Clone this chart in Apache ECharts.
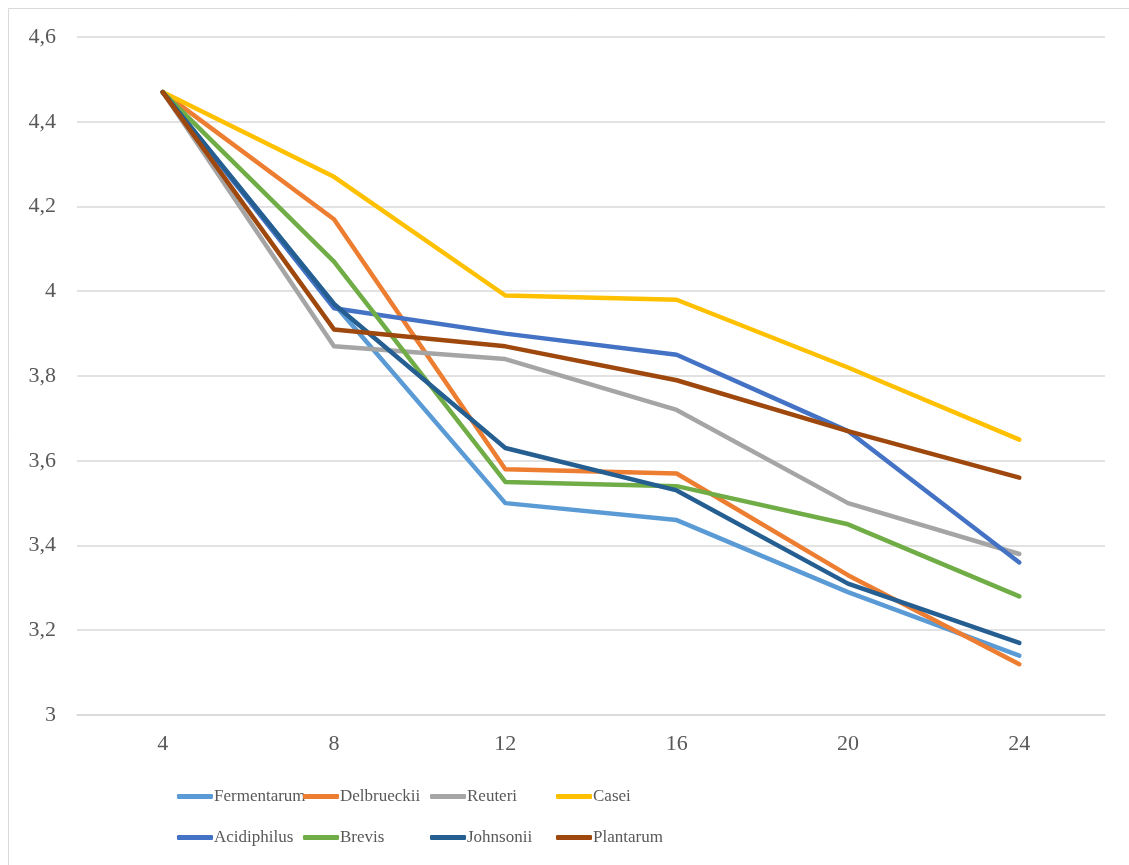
<!DOCTYPE html>
<html>
<head>
<meta charset="utf-8">
<script src="https://cdn.jsdelivr.net/npm/echarts@6/dist/echarts.min.js"></script>
<style>html,body{margin:0;padding:0;background:#fff;}#c{width:1129px;height:865px;}</style>
</head>
<body>
<div id="c"></div>
<script>
const categories = ['4', '8', '12', '16', '20', '24'];
const fermentarum = [4.47, 3.97, 3.50, 3.46, 3.29, 3.14];
const delbrueckii = [4.47, 4.17, 3.58, 3.57, 3.33, 3.12];
const reuteri     = [4.47, 3.87, 3.84, 3.72, 3.50, 3.38];
const casei       = [4.47, 4.27, 3.99, 3.98, 3.82, 3.65];
const acidiphilus = [4.47, 3.96, 3.90, 3.85, 3.67, 3.36];
const brevis      = [4.47, 4.07, 3.55, 3.54, 3.45, 3.28];
const johnsonii   = [4.47, 3.97, 3.63, 3.53, 3.31, 3.17];
const plantarum   = [4.47, 3.91, 3.87, 3.79, 3.67, 3.56];
const seriesNames = ['Fermentarum', 'Delbrueckii', 'Reuteri', 'Casei', 'Acidiphilus', 'Brevis', 'Johnsonii', 'Plantarum'];
const seriesData = [fermentarum, delbrueckii, reuteri, casei, acidiphilus, brevis, johnsonii, plantarum];
const colors = ['#5B9BD5', '#ED7D31', '#A5A5A5', '#FFC000', '#4472C4', '#70AD47', '#255E91', '#9E480E'];

const font = '"Liberation Serif", "DejaVu Serif", serif';
const chart = echarts.init(document.getElementById('c'), null, {renderer: 'canvas'});
const legendCols = [172, 298, 425, 551];
const legendRows = [783, 824];
const legends = seriesNames.map((n, i) => ({
  data: [n],
  left: legendCols[i % 4],
  top: legendRows[Math.floor(i / 4)],
  orient: 'horizontal',
  itemWidth: 36,
  itemHeight: 5,
  icon: 'roundRect',
  selectedMode: false,
  textStyle: {fontFamily: font, fontSize: 17, color: '#595959', padding: [0, 0, 0, -4]}
}));
chart.setOption({
  animation: false,
  color: colors,
  graphic: [
    {type: 'line', shape: {x1: 8.5, y1: 8.5, x2: 8.5, y2: 865}, style: {stroke: '#d9d9d9', lineWidth: 1}},
    {type: 'line', shape: {x1: 8.5, y1: 8.5, x2: 1129, y2: 8.5}, style: {stroke: '#d9d9d9', lineWidth: 1}}
  ],
  grid: {left: 77, right: 24, top: 37, bottom: 150, containLabel: false},
  legend: legends,
  xAxis: {
    type: 'category',
    data: categories,
    boundaryGap: true,
    axisLine: {show: true, lineStyle: {color: '#d9d9d9', width: 1.5}},
    axisTick: {show: false},
    axisLabel: {fontFamily: font, fontSize: 22, color: '#595959', margin: 18}
  },
  yAxis: {
    type: 'value',
    min: 3,
    max: 4.6,
    interval: 0.2,
    axisLine: {show: false},
    axisTick: {show: false},
    splitLine: {lineStyle: {color: '#d9d9d9', width: 1.5}},
    axisLabel: {
      fontFamily: font, fontSize: 22, color: '#595959', margin: 21,
      formatter: v => String(Math.round(v * 10) / 10).replace('.', ',')
    }
  },
  series: seriesNames.map((n, i) => ({
    name: n,
    type: 'line',
    data: seriesData[i],
    symbol: 'none',
    lineStyle: {width: 4.5, cap: 'round', join: 'round', color: colors[i]},
    itemStyle: {color: colors[i]}
  }))
});
</script>
</body>
</html>
